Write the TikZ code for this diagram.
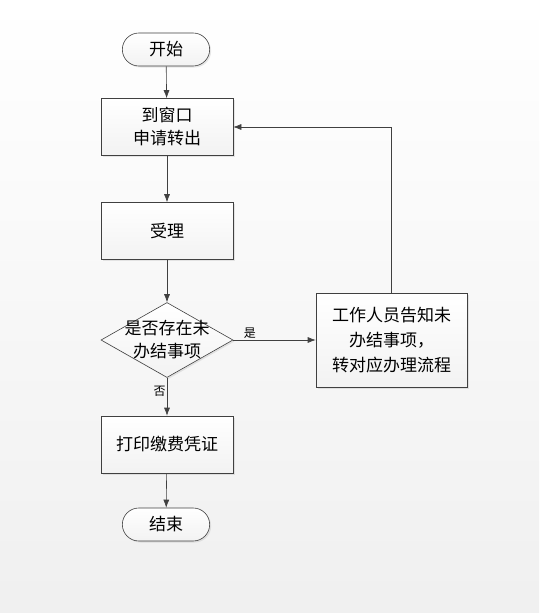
\documentclass[tikz,border=0pt]{standalone}
\usepackage{fontspec}
\newfontfamily\cjk{Noto Sans CJK SC}
\usetikzlibrary{arrows.meta}
\usetikzlibrary{shapes.geometric,shapes.misc,shadows}

\begin{document}
\begin{tikzpicture}[x=1pt,y=-1pt,
  >={Latex[length=8pt,width=6pt]},semithick,
  flow/.style={draw=black!75,->},
  box/.style={draw=black!75,top color=white,bottom color=black!5,
    drop shadow={opacity=0.18,shadow xshift=1.5pt,shadow yshift=-1.5pt},
    font=\cjk\fontsize{17}{23}\selectfont,align=center},
  proc/.style={box,rectangle,minimum width=132pt,minimum height=57pt},
  term/.style={box,rounded rectangle,minimum width=94pt,minimum height=33pt},
  tag/.style={font=\cjk\fontsize{12}{14}\selectfont,inner sep=1pt}]
      % background
      \shade[top color=white,bottom color=black!6] (0,0) rectangle (539,613);
      \useasboundingbox (0,0) rectangle (539,613);

     \node [term] (s) at (166,49.5) {开始};
     \node [proc] (a) at (167,127) {到窗口\\申请转出};
     \node [proc] (b) at (167,231) {受理};
     \node [box,diamond,minimum width=132pt,minimum height=75pt] (c) at (167,340) {};
     \node [font=\cjk\fontsize{17}{23}\selectfont,align=center] (ct) at (c.center) {是否存在未\\办结事项};
     \node [proc,minimum width=151pt,minimum height=94pt,font=\cjk\fontsize{17}{25}\selectfont] (w) at (391.5,340) {工作人员告知未\\办结事项，\\转对应办理流程};
     \node [proc] (p) at (167,444.5) {打印缴费凭证};
     \node [term] (e) at (166,524.5) {结束};

     \draw [flow] (s) -- (a);
     \draw [flow] (a) -- (b);
     \draw [flow] (b) -- (c);
     \draw [flow] (c) -- node [tag,above,pos=0.2] (y) {是} (w);
     \draw [flow] (c) -- node [tag,left,pos=0.35] (n) {否} (p);
     \draw [flow] (w.north) -- (w.north |- a.east) -- (a.east);
     \draw [flow] (p) -- (e);

  \end{tikzpicture}
\end{document}
